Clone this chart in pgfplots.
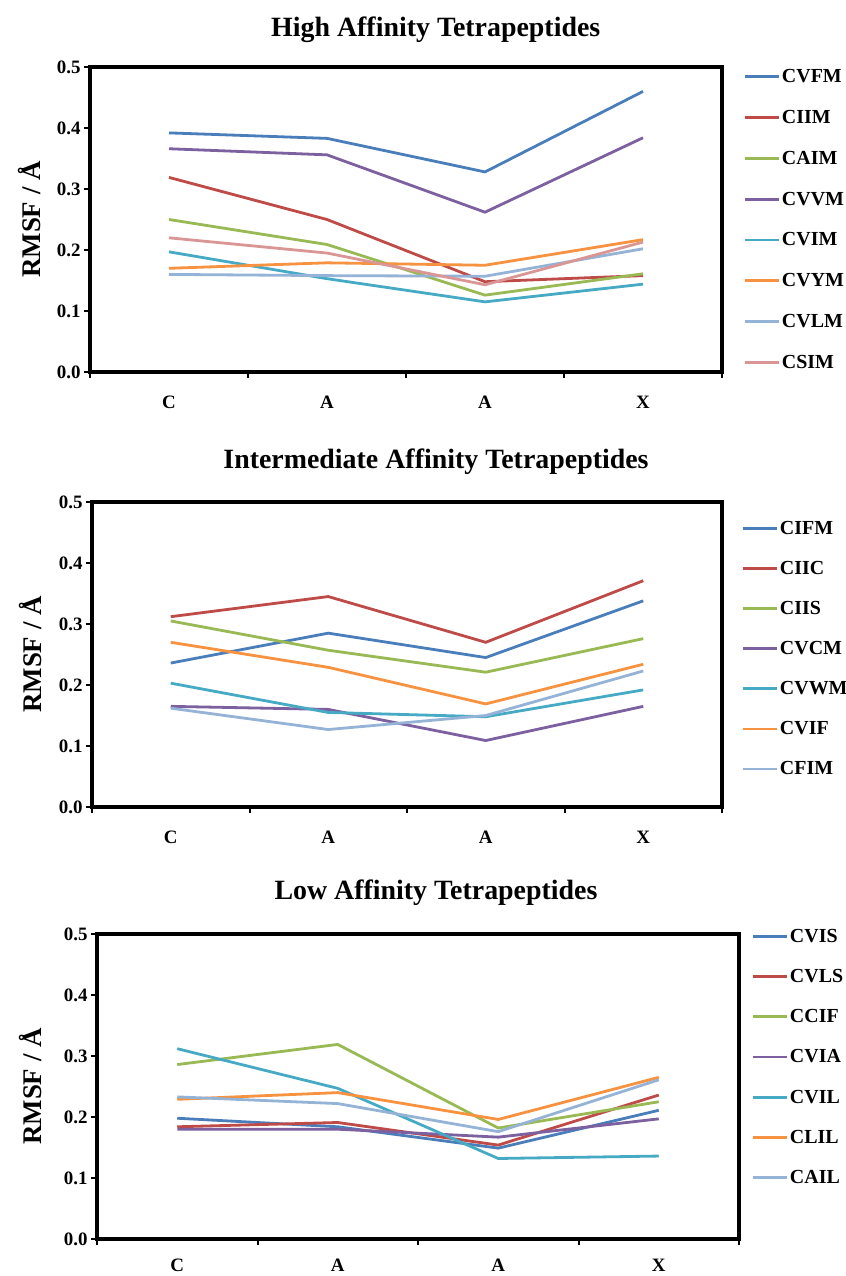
\documentclass[border=0pt]{standalone}
\usepackage{fontspec}
\setmainfont{Liberation Serif}
\usepackage{pgfplots}
\pgfplotsset{compat=1.18}
\definecolor{cblue}{HTML}{4A7EBB}
\definecolor{cred}{HTML}{BE4B48}
\definecolor{cgreen}{HTML}{98B954}
\definecolor{cpurple}{HTML}{7D60A0}
\definecolor{ccyan}{HTML}{46AAC5}
\definecolor{corange}{HTML}{F69240}
\definecolor{clblue}{HTML}{95B3D7}
\definecolor{cpink}{HTML}{D99694}
\newcommand{\tickfont}{\fontsize{19}{21}\selectfont\bfseries}
\newcommand{\legfont}{\fontsize{20}{22}\selectfont\bfseries}
\newcommand{\ylfont}{\fontsize{27}{30}\selectfont\bfseries}
\newcommand{\titlefont}{\fontsize{28}{31}\selectfont\bfseries}
\pgfplotsset{
  panel/.style={
    scale only axis, height=305bp,
    xmin=-0.5, xmax=3.5, ymin=0, ymax=0.5,
    ytick={0,0.1,0.2,0.3,0.4,0.5},
    xtick={-0.5,0.5,1.5,2.5,3.5}, xticklabels={,,,,},
    extra x ticks={0,1,2,3}, extra x tick labels={C,A,A,X},
    tick align=outside, xtick pos=bottom, ytick pos=left,
    major tick length=6bp,
    tick style={black, line width=2bp},
    axis line style={line width=3.5bp},
    yticklabel style={font=\tickfont, /pgf/number format/.cd, fixed, fixed zerofill, precision=1, assume math mode=true},
    xticklabel style={font=\tickfont},
    ylabel={RMSF / Å}, ylabel style={font=\ylfont, anchor=center},
    title style={font=\titlefont, anchor=center},
    legend cell align=left,
    legend image code/.code={\draw[##1, line width=2.8bp] (0bp,0bp) -- (34bp,0bp);},
    every axis plot/.append style={line width=2.8bp, no markers},
  }
}
\begin{document}
\begin{tikzpicture}
\path[use as bounding box] (0,0) rectangle (846bp,-1276bp);
% Panel 1
\begin{axis}[panel, width=632bp, at={(90bp,-372bp)}, anchor=south west,
  extra x tick style={major tick length=0pt, xticklabel style={anchor=center, yshift=-30bp}},
  title={High Affinity Tetrapeptides}, title style={at={(axis description cs:0.547,1.131)}, yshift=-9bp},
  ylabel style={at={(axis description cs:-0.095,0.5)}},
  legend style={draw=none, fill=none, at={(axis description cs:1,1)}, anchor=north west, xshift=18bp, yshift=2bp, font=\legfont, row sep=22.2bp}]
\addplot[cblue] coordinates {(0,0.392) (1,0.383) (2,0.328) (3,0.460)};
\addlegendentry{CVFM}
\addplot[cred] coordinates {(0,0.319) (1,0.250) (2,0.148) (3,0.158)};
\addlegendentry{CIIM}
\addplot[cgreen] coordinates {(0,0.250) (1,0.209) (2,0.126) (3,0.161)};
\addlegendentry{CAIM}
\addplot[cpurple] coordinates {(0,0.366) (1,0.356) (2,0.262) (3,0.384)};
\addlegendentry{CVVM}
\addplot[ccyan] coordinates {(0,0.197) (1,0.153) (2,0.115) (3,0.144)};
\addlegendentry{CVIM}
\addplot[corange] coordinates {(0,0.170) (1,0.179) (2,0.175) (3,0.217)};
\addlegendentry{CVYM}
\addplot[clblue] coordinates {(0,0.160) (1,0.158) (2,0.157) (3,0.202)};
\addlegendentry{CVLM}
\addplot[cpink] coordinates {(0,0.220) (1,0.195) (2,0.143) (3,0.213)};
\addlegendentry{CSIM}
\end{axis}
% Panel 2
\begin{axis}[panel, width=630bp, at={(92bp,-807bp)}, anchor=south west,
  extra x tick style={major tick length=0pt, xticklabel style={anchor=center, yshift=-30bp}},
  title={Intermediate Affinity Tetrapeptides}, title style={at={(axis description cs:0.546,1.138)}, yshift=-8bp},
  ylabel style={at={(axis description cs:-0.098,0.5)}},
  legend style={draw=none, fill=none, at={(axis description cs:1,1)}, anchor=north west, xshift=16bp, yshift=-15bp, font=\legfont, row sep=21.4bp}]
\addplot[cblue] coordinates {(0,0.236) (1,0.285) (2,0.245) (3,0.338)};
\addlegendentry{CIFM}
\addplot[cred] coordinates {(0,0.312) (1,0.345) (2,0.270) (3,0.371)};
\addlegendentry{CIIC}
\addplot[cgreen] coordinates {(0,0.305) (1,0.257) (2,0.221) (3,0.276)};
\addlegendentry{CIIS}
\addplot[cpurple] coordinates {(0,0.165) (1,0.160) (2,0.109) (3,0.165)};
\addlegendentry{CVCM}
\addplot[ccyan] coordinates {(0,0.203) (1,0.155) (2,0.148) (3,0.192)};
\addlegendentry{CVWM}
\addplot[corange] coordinates {(0,0.270) (1,0.229) (2,0.169) (3,0.234)};
\addlegendentry{CVIF}
\addplot[clblue] coordinates {(0,0.162) (1,0.127) (2,0.150) (3,0.223)};
\addlegendentry{CFIM}
\end{axis}
% Panel 3
\begin{axis}[panel, width=642bp, at={(97bp,-1239bp)}, anchor=south west,
  extra x tick style={major tick length=0pt, xticklabel style={anchor=center, yshift=-26bp}},
  title={Low Affinity Tetrapeptides}, title style={at={(axis description cs:0.528,1.14)}, yshift=-7bp},
  ylabel style={at={(axis description cs:-0.104,0.5)}},
  legend style={draw=none, fill=none, at={(axis description cs:1,1)}, anchor=north west, xshift=9bp, yshift=9bp, font=\legfont, row sep=21.5bp}]
\addplot[cblue] coordinates {(0,0.198) (1,0.184) (2,0.149) (3,0.211)};
\addlegendentry{CVIS}
\addplot[cred] coordinates {(0,0.184) (1,0.191) (2,0.154) (3,0.236)};
\addlegendentry{CVLS}
\addplot[cgreen] coordinates {(0,0.286) (1,0.319) (2,0.182) (3,0.225)};
\addlegendentry{CCIF}
\addplot[cpurple] coordinates {(0,0.180) (1,0.180) (2,0.167) (3,0.197)};
\addlegendentry{CVIA}
\addplot[ccyan] coordinates {(0,0.312) (1,0.247) (2,0.132) (3,0.136)};
\addlegendentry{CVIL}
\addplot[corange] coordinates {(0,0.229) (1,0.240) (2,0.196) (3,0.265)};
\addlegendentry{CLIL}
\addplot[clblue] coordinates {(0,0.233) (1,0.222) (2,0.176) (3,0.261)};
\addlegendentry{CAIL}
\end{axis}
\end{tikzpicture}
\end{document}
